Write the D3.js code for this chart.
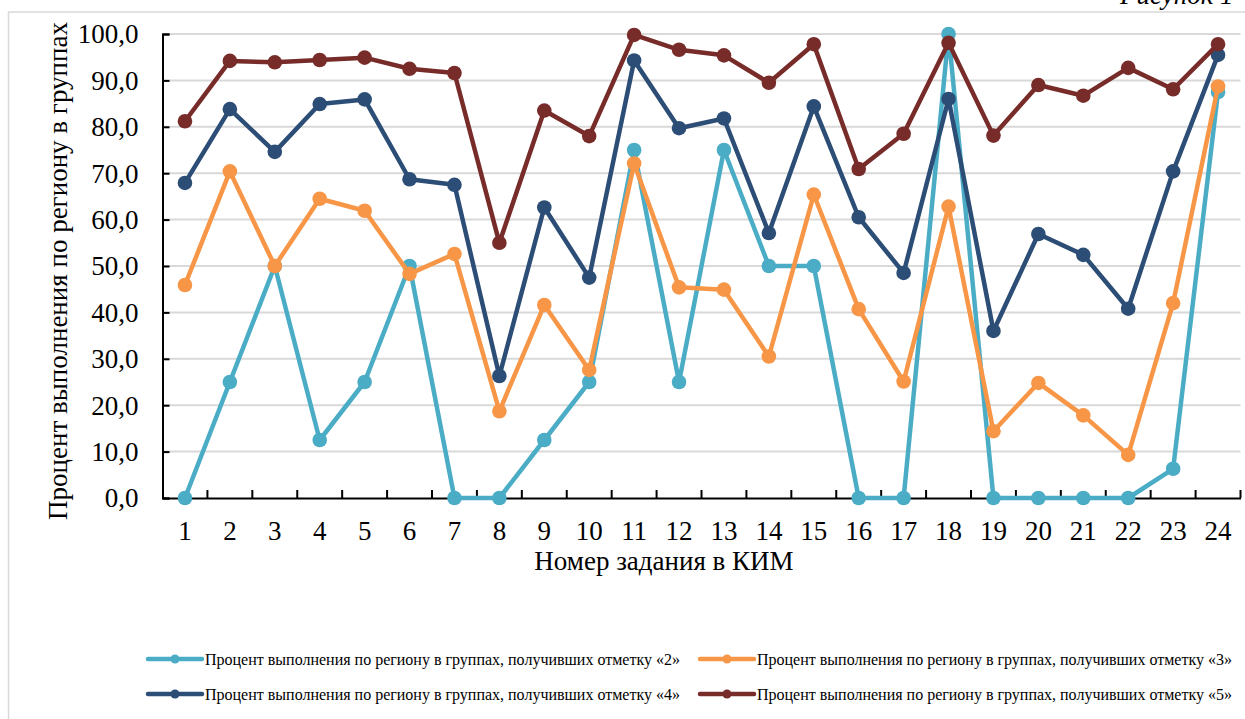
<!DOCTYPE html>
<html>
<head>
<meta charset="utf-8">
<script src="https://cdn.jsdelivr.net/npm/d3@7"></script>
<style>
  html, body { margin: 0; padding: 0; background: #ffffff; }
  svg { display: block; }
</style>
</head>
<body>
<svg id="chart" width="1245" height="719"></svg>
<script>
// Номера заданий КИМ
const tasks = ["1","2","3","4","5","6","7","8","9","10","11","12","13","14","15","16","17","18","19","20","21","22","23","24"];

// Процент выполнения по группам
const grade2 = [0, 25, 50, 12.5, 25, 50, 0, 0, 12.5, 25, 75, 25, 75, 50, 50, 0, 0, 100, 0, 0, 0, 0, 6.3, 87.5];
const grade3 = [45.9, 70.4, 50.0, 64.5, 61.9, 48.3, 52.6, 18.7, 41.6, 27.6, 72.1, 45.4, 44.9, 30.5, 65.4, 40.7, 25.1, 62.8, 14.4, 24.8, 17.8, 9.3, 42.0, 88.7];
const grade4 = [67.9, 83.8, 74.6, 84.9, 85.9, 68.7, 67.5, 26.3, 62.6, 47.5, 94.3, 79.7, 81.8, 57.1, 84.4, 60.5, 48.5, 86.0, 36.0, 56.9, 52.4, 40.8, 70.4, 95.5];
const grade5 = [81.2, 94.2, 93.9, 94.4, 94.9, 92.5, 91.6, 55.0, 83.5, 78.0, 99.8, 96.6, 95.4, 89.5, 97.8, 70.9, 78.5, 98.1, 78.1, 89.0, 86.7, 92.7, 88.1, 97.8];

const yTicks = [0, 10, 20, 30, 40, 50, 60, 70, 80, 90, 100];

const seriesNames = [
  "Процент выполнения по региону в группах, получивших отметку «2»",
  "Процент выполнения по региону в группах, получивших отметку «3»",
  "Процент выполнения по региону в группах, получивших отметку «4»",
  "Процент выполнения по региону в группах, получивших отметку «5»"
];
const seriesColors = ["#4bacc6", "#f79646", "#2c4d75", "#772c2a"];
const seriesValues = [grade2, grade3, grade4, grade5];

const series = seriesNames.map((name, i) => ({ name, color: seriesColors[i], values: seriesValues[i] }));

const serif = "'Liberation Serif', 'Times New Roman', serif";
const svg = d3.select("#chart");

// Рамка области диаграммы
svg.append("rect")
  .attr("x", 8.5).attr("y", 12)
  .attr("width", 1260).attr("height", 740)
  .attr("fill", "none")
  .attr("stroke", "#d9d9d9")
  .attr("stroke-width", 1.5);

// Подпись рисунка
svg.append("text")
  .attr("x", 1120).attr("y", 4)
  .attr("font-family", serif)
  .attr("font-style", "italic")
  .attr("font-size", 27)
  .attr("fill", "#000")
  .text("Рисунок 1");

const plot = { left: 162.5, right: 1240.5, top: 34, bottom: 498 };

const x = d3.scaleBand().domain(tasks).range([plot.left, plot.right]);
const y = d3.scaleLinear().domain([0, 100]).range([plot.bottom, plot.top]);
const cx = d => x(d) + x.bandwidth() / 2;

// Сетка
svg.append("g")
  .selectAll("line")
  .data(yTicks.filter(t => t > 0))
  .join("line")
  .attr("x1", plot.left).attr("x2", plot.right)
  .attr("y1", d => y(d)).attr("y2", d => y(d))
  .attr("stroke", "#d9d9d9")
  .attr("stroke-width", 2);

// Ось Y
const fmt = v => d3.format(".1f")(v).replace(".", ",");
const yAxis = svg.append("g")
  .attr("transform", `translate(${plot.left},0)`)
  .call(d3.axisRight(y).tickValues(yTicks).tickSize(7).tickFormat(fmt));
yAxis.select(".domain").attr("stroke", "#000").attr("stroke-width", 2);
yAxis.selectAll(".tick line").attr("stroke", "#000").attr("stroke-width", 2);
yAxis.selectAll(".tick text")
  .attr("x", -24)
  .attr("text-anchor", "end")
  .attr("dy", "0.33em")
  .attr("font-family", serif)
  .attr("font-size", 27)
  .attr("fill", "#000");

// Ось X
const xAxis = svg.append("g")
  .attr("transform", `translate(0,${plot.bottom})`)
  .call(d3.axisBottom(x).tickSize(0).tickSizeOuter(0));
xAxis.select(".domain").attr("stroke", "#000").attr("stroke-width", 2);
xAxis.selectAll(".tick text")
  .attr("y", 42)
  .attr("dy", 0)
  .attr("font-family", serif)
  .attr("font-size", 27)
  .attr("fill", "#000");
// Засечки между категориями
const bounds = tasks.slice(1).map(t => x(t)).concat([plot.right]);
xAxis.append("g")
  .selectAll("line")
  .data(bounds)
  .join("line")
  .attr("x1", d => d).attr("x2", d => d)
  .attr("y1", 0).attr("y2", -8)
  .attr("stroke", "#000")
  .attr("stroke-width", 2);

// Подписи осей
svg.append("text")
  .attr("x", 664).attr("y", 570)
  .attr("text-anchor", "middle")
  .attr("font-family", serif)
  .attr("font-size", 27)
  .attr("fill", "#000")
  .text("Номер задания в КИМ");

svg.append("text")
  .attr("transform", `translate(67,271) rotate(-90)`)
  .attr("text-anchor", "middle")
  .attr("font-family", serif)
  .attr("font-size", 27)
  .attr("fill", "#000")
  .text("Процент выполнения по региону в группах");

// Линии серий с маркерами
const line = d3.line()
  .x((d, i) => cx(tasks[i]))
  .y(d => y(d));

series.forEach(s => {
  const g = svg.append("g");
  g.append("path")
    .attr("d", line(s.values))
    .attr("fill", "none")
    .attr("stroke", s.color)
    .attr("stroke-width", 4.5)
    .attr("stroke-linejoin", "round");
  g.selectAll("circle")
    .data(s.values)
    .join("circle")
    .attr("cx", (d, i) => cx(tasks[i]))
    .attr("cy", d => y(d))
    .attr("r", 7.3)
    .attr("fill", s.color);
});

// Легенда
const legendPos = [
  { x: 148, y: 659 },
  { x: 700, y: 659 },
  { x: 148, y: 694 },
  { x: 700, y: 694 }
];
series.forEach((s, i) => {
  const p = legendPos[i];
  const g = svg.append("g").attr("transform", `translate(${p.x},${p.y})`);
  g.append("line")
    .attr("x1", 0).attr("x2", 54)
    .attr("y1", 0).attr("y2", 0)
    .attr("stroke", s.color)
    .attr("stroke-width", 4.5)
    .attr("stroke-linecap", "round");
  g.append("circle").attr("cx", 27).attr("cy", 0).attr("r", 4.5).attr("fill", s.color);
  g.append("text")
    .attr("x", 57).attr("y", 0)
    .attr("dy", "0.35em")
    .attr("font-family", serif)
    .attr("font-size", 16)
    .attr("fill", "#000")
    .text(s.name);
});
</script>
</body>
</html>
